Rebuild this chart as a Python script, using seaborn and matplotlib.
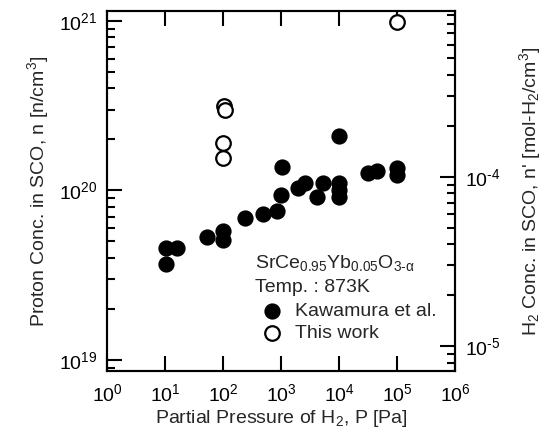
import numpy as np
import pandas as pd
import seaborn as sns
import matplotlib
matplotlib.use("Agg")
import matplotlib.pyplot as plt
from matplotlib.ticker import LogLocator, NullFormatter, FixedLocator

sns.set_theme(style="ticks")
plt.rcParams["font.family"] = ["Liberation Sans", "DejaVu Sans"]
plt.rcParams["mathtext.fontset"] = "custom"
plt.rcParams["mathtext.rm"] = "Liberation Sans"
plt.rcParams["mathtext.it"] = "Liberation Sans:italic"
plt.rcParams["mathtext.default"] = "regular"

# data ------------------------------------------------------------------------
kaw_p = [10.4, 16, 10.4, 53, 100, 100, 240, 490, 850, 1000, 1050, 1950, 2600,
         4200, 5300, 10000, 10000, 10000, 10000, 32000, 45000, 100000, 100000]
kaw_n = [4.55e19, 4.55e19, 3.7e19, 5.3e19, 5.8e19, 5.1e19, 6.9e19, 7.3e19,
         7.6e19, 9.4e19, 1.38e20, 1.04e20, 1.1e20, 9.1e19, 1.11e20, 2.1e20,
         1.1e20, 1.0e20, 9.2e19, 1.26e20, 1.3e20, 1.35e20, 1.23e20]
this_p = [105, 108, 100, 100, 100000]
this_n = [3.15e20, 3.0e20, 1.9e20, 1.56e20, 9.8e20]

x_ticks = [1e0, 1e1, 1e2, 1e3, 1e4, 1e5, 1e6]
x_labels = ["$10^{%d}$" % i for i in range(7)]
n_to_mol = 1 / (2 * 6.022e23)   # n' = n / (2 N_A)
FS = 14

kaw = pd.DataFrame({"P": kaw_p, "n": kaw_n})
this = pd.DataFrame({"P": this_p, "n": this_n})

fig = plt.figure(figsize=(5.49, 4.37), dpi=100)
ax = fig.add_axes([0.195, 0.151, 0.634, 0.824])

sns.scatterplot(data=kaw, x="P", y="n", ax=ax, s=110, color="black",
                edgecolor="black", linewidth=1.2, label="Kawamura et al.", zorder=3)
sns.scatterplot(data=this, x="P", y="n", ax=ax, s=110, facecolor="white",
                edgecolor="black", linewidth=1.6, label="This work", zorder=3)

ax.set_xscale("log"); ax.set_yscale("log")
ax.set_xlim(1, 1e6)
ylo, yhi = 10**18.935, 10**21.059
ax.set_ylim(ylo, yhi)
ax.xaxis.set_major_locator(FixedLocator(x_ticks))
ax.set_xticklabels(x_labels)
ax.xaxis.set_minor_locator(FixedLocator([]))
ax.yaxis.set_major_locator(FixedLocator([1e19, 1e20, 1e21]))
ax.set_yticklabels(["$10^{19}$", "$10^{20}$", "$10^{21}$"])
ax.yaxis.set_minor_locator(LogLocator(base=10, subs=np.arange(2, 10)))
ax.yaxis.set_minor_formatter(NullFormatter())
ax.tick_params(which="both", direction="in", top=True, right=False,
               labelsize=FS, width=1.5, colors="black")
ax.tick_params(axis="x", which="major", length=10.5, pad=9)
ax.tick_params(axis="y", which="major", length=11, pad=7)
ax.tick_params(axis="y", which="minor", length=6)
for sp in ax.spines.values():
    sp.set_linewidth(1.5); sp.set_color("black")

ax.set_xlabel("Partial Pressure of H$_2$, P [Pa]", fontsize=FS, labelpad=2)
ax.set_ylabel("Proton Conc. in SCO, n [n/cm$^3$]", fontsize=FS, labelpad=6)

ax2 = ax.twinx()
ax2.set_yscale("log")
ax2.set_ylim(ylo * n_to_mol, yhi * n_to_mol)
ax2.yaxis.set_major_locator(FixedLocator([1e-5, 1e-4]))
ax2.set_yticklabels([r"$10^{\text{-}5}$", r"$10^{\text{-}4}$"])
ax2.yaxis.set_minor_locator(LogLocator(base=10, subs=np.arange(2, 10)))
ax2.yaxis.set_minor_formatter(NullFormatter())
ax2.tick_params(which="both", direction="in", labelsize=FS, width=1.5, colors="black")
ax2.tick_params(which="major", length=11, pad=7)
ax2.tick_params(which="minor", length=6)
ax2.set_ylabel("H$_2$ Conc. in SCO, n' [mol-H$_2$/cm$^3$]", fontsize=FS, labelpad=12)
for sp in ax2.spines.values():
    sp.set_linewidth(1.5); sp.set_color("black")

ax.text(0.425, 0.30, r"SrCe$_{0.95}$Yb$_{0.05}$O$_{3\text{-}\alpha}$", transform=ax.transAxes,
        fontsize=FS, va="center", ha="left")
ax.text(0.425, 0.233, "Temp. : 873K", transform=ax.transAxes,
        fontsize=FS, va="center", ha="left")
ax.legend(loc="upper left", bbox_to_anchor=(0.446, 0.19), frameon=False,
          fontsize=FS, handlelength=1.0, handletextpad=0.7, borderpad=0,
          borderaxespad=0, labelspacing=0.2)

fig.savefig("out.png", dpi=100, facecolor="white")
